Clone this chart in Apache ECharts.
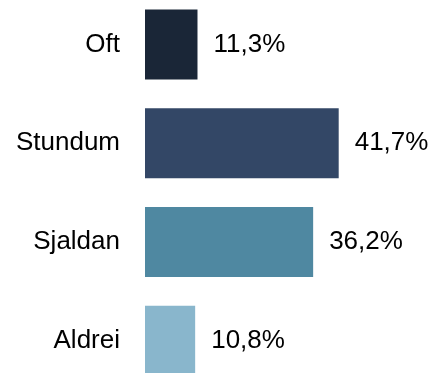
<!DOCTYPE html>
<html><head><meta charset="utf-8">
<script src="https://cdn.jsdelivr.net/npm/echarts@6/dist/echarts.min.js"></script>
<style>html,body{margin:0;padding:0;background:#fff;}#c{width:431px;height:373px;}</style>
</head><body><div id="c"></div>
<script>
var categories = ["Oft", "Stundum", "Sjaldan", "Aldrei"];
var values = [11.3, 41.7, 36.2, 10.8];
var colors = ["#1a2637", "#334766", "#4f88a1", "#89b6cc"];

var chart = echarts.init(document.getElementById('c'), null, {renderer: 'canvas'});
chart.setOption({
  animation: false,
  grid: {left: 145, top: -5, height: 395, width: 60 * 4.645, containLabel: false, outerBoundsMode: 'none'},
  xAxis: {type: 'value', min: 0, max: 60, show: false},
  yAxis: {
    type: 'category', data: categories, inverse: true,
    axisLine: {show: false}, axisTick: {show: false},
    axisLabel: {margin: 25, color: '#000', fontSize: 26, fontFamily: 'Liberation Sans, Arial, sans-serif'}
  },
  series: [{
    type: 'bar', barWidth: 70,
    data: values.map(function (v, i) { return {value: v, itemStyle: {color: colors[i]}}; }),
    label: {
      show: true, position: 'right', distance: 16, color: '#000', fontSize: 26,
      fontFamily: 'Liberation Sans, Arial, sans-serif',
      formatter: function (p) { return p.value.toFixed(1).replace('.', ',') + '%'; }
    }
  }]
});
</script></body></html>
